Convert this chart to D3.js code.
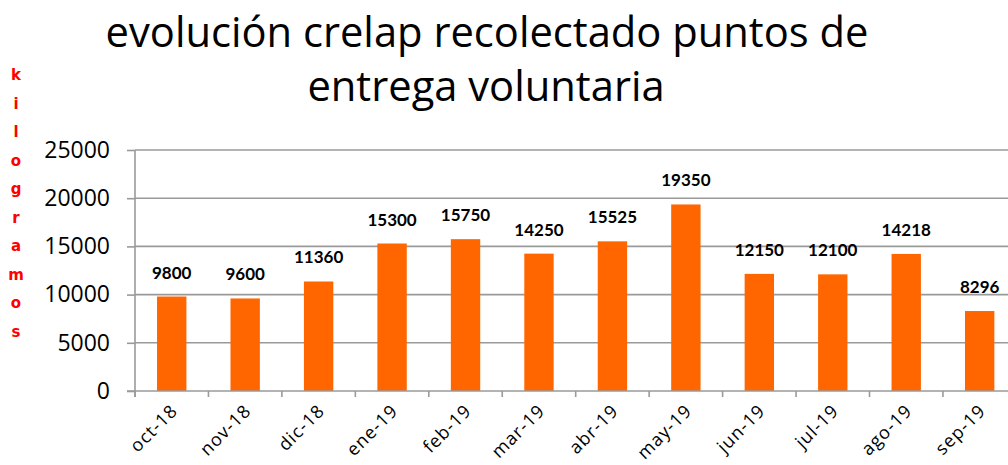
<!DOCTYPE html>
<html>
<head>
<meta charset="utf-8">
<script src="https://cdn.jsdelivr.net/npm/d3@7"></script>
<style>
  html, body { margin: 0; padding: 0; background: #fff; overflow: hidden; }
  svg { display: block; }
</style>
</head>
<body>
<svg id="chart" width="1008" height="465"></svg>
<script>
const categories = ["oct-18","nov-18","dic-18","ene-19","feb-19","mar-19","abr-19","may-19","jun-19","jul-19","ago-19","sep-19"];
const values = [9800, 9600, 11360, 15300, 15750, 14250, 15525, 19350, 12150, 12100, 14218, 8296];
const yTicks = [0, 5000, 10000, 15000, 20000, 25000];
const titleLines = ["evolución crelap recolectado puntos de", "entrega voluntaria"];
const yTitle = "kilogramos";

const svg = d3.select("#chart");
const W = 1008, H = 465;
const margin = {left: 135, top: 150, bottom: 391};
const plotRight = 135 + 12 * 73.45;

const x = d3.scaleBand().domain(categories).range([margin.left, plotRight]).paddingInner(0.6).paddingOuter(0.3);
const y = d3.scaleLinear().domain([0, 25000]).range([margin.bottom, margin.top]);

// gridlines
svg.append("g").selectAll("line").data(yTicks.filter(d => d > 0)).join("line")
  .attr("x1", margin.left).attr("x2", W)
  .attr("y1", d => y(d)).attr("y2", d => y(d))
  .attr("stroke", "#9a9a9a").attr("stroke-width", 1.6);

// bars
svg.append("g").selectAll("rect").data(values).join("rect")
  .attr("x", (d, i) => x(categories[i]))
  .attr("width", x.bandwidth())
  .attr("y", d => y(d))
  .attr("height", d => y(0) - y(d))
  .attr("fill", "#ff6600");

// y axis
const yAxis = d3.axisLeft(y).tickValues(yTicks).tickSize(8).tickPadding(17).tickFormat(d3.format("d"));
const gy = svg.append("g").attr("transform", `translate(${margin.left},0)`).call(yAxis);
gy.select(".domain").remove();
gy.append("line").attr("x1", 0).attr("x2", 0).attr("y1", margin.top).attr("y2", margin.bottom + 6)
  .attr("stroke", "#9a9a9a").attr("stroke-width", 1.6);
gy.selectAll(".tick line").attr("stroke", "#9a9a9a").attr("stroke-width", 1.6);
gy.selectAll(".tick text").attr("font-family", "'Open Sans', sans-serif").attr("font-size", 23).attr("fill", "#000");

// x axis
const xb = d3.scaleLinear().domain([0, 12]).range([margin.left, plotRight]);
const gx = svg.append("g");
gx.append("line").attr("x1", margin.left - 8).attr("x2", W).attr("y1", y(0)).attr("y2", y(0))
  .attr("stroke", "#9a9a9a").attr("stroke-width", 1.6);
gx.selectAll("line.tk").data(d3.range(0, 13)).join("line").attr("class", "tk")
  .attr("x1", d => xb(d)).attr("x2", d => xb(d))
  .attr("y1", y(0)).attr("y2", y(0) + 6)
  .attr("stroke", "#9a9a9a").attr("stroke-width", 1.6);
gx.selectAll("text").data(categories).join("text")
  .attr("transform", d => `translate(${x(d) + x.bandwidth()/2 + 7},${y(0) + 21}) rotate(-45)`)
  .attr("text-anchor", "end")
  .attr("font-family", "'Open Sans', sans-serif")
  .attr("font-size", 18)
  .attr("letter-spacing", 1)
  .attr("fill", "#000")
  .text(d => d);

// value labels
svg.append("g").selectAll("text").data(values).join("text")
  .attr("x", (d, i) => x(categories[i]) + x.bandwidth()/2)
  .attr("y", d => y(d) - 18)
  .attr("text-anchor", "middle")
  .attr("font-family", "Lato, sans-serif")
  .attr("font-weight", "bold")
  .attr("font-size", 17)
  .attr("fill", "#000")
  .text(d => d);

// y title stacked letters
svg.append("g").selectAll("text").data(yTitle.split("")).join("text")
  .attr("x", 16)
  .attr("y", (d, i) => 80 + i * 28.5)
  .attr("text-anchor", "middle")
  .attr("font-family", "'DejaVu Sans', sans-serif")
  .attr("font-weight", "bold")
  .attr("font-size", 15)
  .attr("fill", "#ff0000")
  .text(d => d);

// title
const t1 = svg.append("text").attr("x", 487).attr("y", 47).attr("text-anchor", "middle")
  .attr("font-family", "'Open Sans', sans-serif").attr("font-size", 40).attr("fill", "#000").text(titleLines[0]);
const w1 = t1.node().getComputedTextLength();
const fs = 40 * 763 / w1;
t1.attr("font-size", fs);
svg.append("text").attr("x", 486).attr("y", 101).attr("text-anchor", "middle")
  .attr("font-family", "'Open Sans', sans-serif").attr("font-size", fs).attr("fill", "#000").text(titleLines[1]);
</script>
</body>
</html>
